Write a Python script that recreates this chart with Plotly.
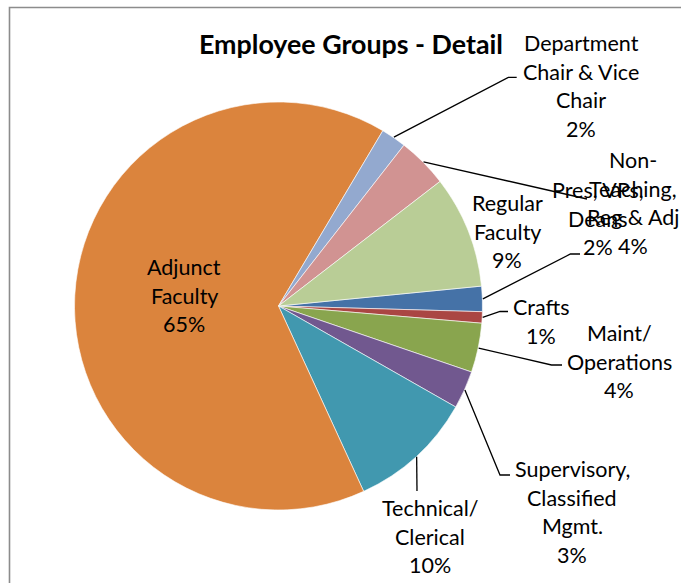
import math
import plotly.graph_objects as go

# ---- data (Excel series order) ----
categories = ["Pres, VPs, Deans", "Crafts", "Maint/ Operations",
              "Supervisory, Classified Mgmt.", "Technical/ Clerical",
              "Adjunct Faculty", "Department Chair & Vice Chair",
              "Non-Teaching, Reg & Adj", "Regular Faculty"]
values = [2.0, 0.9, 3.9, 3.0, 9.9, 65.4, 2.0, 4.0, 8.9]
label_lines = [["Pres, VPs,", "Deans"], ["Crafts"], ["Maint/", "Operations"],
               ["Supervisory,", "Classified", "Mgmt."], ["Technical/", "Clerical"],
               ["Adjunct", "Faculty"], ["Department", "Chair & Vice", "Chair"],
               ["Non-", "Teaching,", "Reg & Adj"], ["Regular", "Faculty"]]
colors = ["#4572A7", "#AA4643", "#89A54E", "#71588F", "#4198AF",
          "#DB843D", "#93A9CF", "#D19392", "#B9CD96"]

W, H = 681, 583
CX, CY, R = 278.5, 306.0, 204.0
ROT = 84.4

# label layout (pixel positions of label centre / first line) and leader elbows
label_pos = [(598, 190), (541, 307), (619, 333), (572, 469), (430, 508),
             (184, 267), (581, 43), (633, 160), (507, 203)]
leader_end = [[(570.5, 254), (580, 254)], [(500, 311.5), (508, 311.5)],
              [(551.5, 365), (562, 365)], [(500, 475), (510, 475)],
              [(417, 491)], None, [(508.3, 77.3), (516.7, 77.3)],
              [(587, 199)], None]

FONT = "Lato"
FS = 21.5
LH = 28.7

def px(x):
    return x / W

def py(y):
    return 1 - y / H

fig = go.Figure(go.Pie(
    labels=categories, values=values, sort=False, direction="clockwise",
    rotation=ROT, textinfo="none", hoverinfo="label+percent",
    marker=dict(colors=colors, line=dict(color="white", width=0.6)),
    domain=dict(x=[px(CX - R), px(CX + R)], y=[py(CY + R), py(CY - R)]),
    showlegend=False,
))

annotations = []
shapes = []
total = sum(values)
cum = 0.0
for i, v in enumerate(values):
    a0 = ROT + 360 * cum / total
    cum += v
    a1 = ROT + 360 * cum / total
    mid = math.radians((a0 + a1) / 2)
    pct = f"{round(100 * v / total)}%"
    lines = label_lines[i] + [pct]
    lx, ly = label_pos[i]
    for k, t in enumerate(lines):
        annotations.append(dict(
            x=px(lx), y=py(ly + k * LH), xref="paper", yref="paper",
            text=t, showarrow=False, xanchor="center", yanchor="middle",
            font=dict(family=FONT, size=FS, color="#000000")))
    if leader_end[i]:
        sx = CX + (R + 0.5) * math.sin(mid)
        sy = CY - (R + 0.5) * math.cos(mid)
        pts = [(sx, sy)] + leader_end[i]
        path = "M " + " L ".join(f"{px(x)},{py(y)}" for x, y in pts)
        shapes.append(dict(type="path", path=path, xref="paper", yref="paper",
                           line=dict(color="#000000", width=1.3)))

# title
annotations.append(dict(x=px(351), y=py(44), xref="paper", yref="paper",
                        text="<b>Employee Groups - Detail</b>", showarrow=False,
                        xanchor="center", yanchor="middle",
                        font=dict(family=FONT, size=26.8, color="#000000")))

# chart frame
shapes.append(dict(type="path", xref="paper", yref="paper",
                   path=f"M {px(9.5)},{py(600)} L {px(9.5)},{py(7.5)} L {px(700)},{py(7.5)}",
                   line=dict(color="#8C8C8C", width=1.6)))

fig.update_layout(width=W, height=H, margin=dict(l=0, r=0, t=0, b=0),
                  paper_bgcolor="white", plot_bgcolor="white",
                  annotations=annotations, shapes=shapes)
fig.write_html("out.html", config={"displayModeBar": False},
               post_script="document.body.style.margin='0px';document.body.style.overflow='hidden';")
